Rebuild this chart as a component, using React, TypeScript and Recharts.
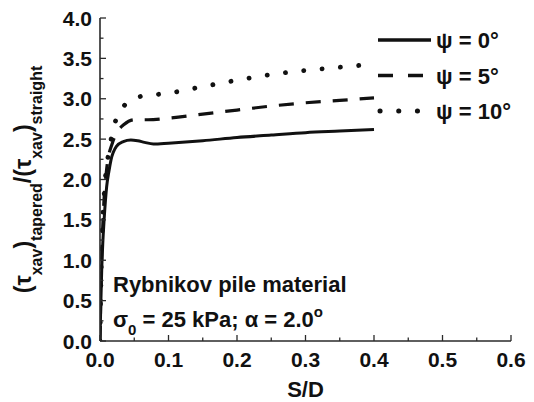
import React from 'react';
import { LineChart, Line, XAxis, YAxis, Legend } from 'recharts';

// S/D vs normalised shaft friction ratio
const psi0X = [0, 0.001, 0.0025, 0.004, 0.006, 0.0097, 0.013, 0.016, 0.024, 0.034, 0.045, 0.055, 0.065, 0.078, 0.1, 0.15, 0.2, 0.25, 0.3, 0.35, 0.4];
const psi0Y = [0, 0.4, 0.88, 1.2, 1.5, 1.91, 2.1, 2.24, 2.41, 2.47, 2.49, 2.48, 2.46, 2.44, 2.45, 2.48, 2.52, 2.55, 2.58, 2.6, 2.62];

const psi5X = [0, 0.002, 0.005, 0.01, 0.018, 0.026, 0.035, 0.05, 0.07, 0.1, 0.15, 0.2, 0.25, 0.3, 0.35, 0.4];
const psi5Y = [0, 0.9, 1.6, 2.15, 2.45, 2.6, 2.68, 2.74, 2.74, 2.76, 2.81, 2.86, 2.91, 2.95, 2.98, 3.01];

const psi10X = [0, 0.002, 0.006, 0.012, 0.017, 0.024, 0.032, 0.043, 0.06, 0.08, 0.1, 0.15, 0.2, 0.25, 0.3, 0.35, 0.4];
const psi10Y = [0, 1.0, 1.8, 2.3, 2.53, 2.76, 2.88, 2.97, 3.03, 3.05, 3.07, 3.15, 3.23, 3.3, 3.35, 3.39, 3.43];

const xTicks = [0, 0.05, 0.1, 0.15, 0.2, 0.25, 0.3, 0.35, 0.4, 0.45, 0.5, 0.55, 0.6];
const yTicks = [0, 0.25, 0.5, 0.75, 1, 1.25, 1.5, 1.75, 2, 2.25, 2.5, 2.75, 3, 3.25, 3.5, 3.75, 4];

const FONT = '"Liberation Sans", Arial, Helvetica, sans-serif';
const INK = '#111';
const FRAME = '#2a2a2a';

const toPoints = (xs: number[], ys: number[]) => xs.map((x, i) => ({ x, y: ys[i] }));

const SERIES = [
  { name: 'psi0', label: '0', data: toPoints(psi0X, psi0Y), dash: undefined, legendDash: undefined, width: 3, cap: 'butt' as const },
  { name: 'psi5', label: '5', data: toPoints(psi5X, psi5Y), dash: '15 12', legendDash: '15 15', width: 3.2, cap: 'butt' as const },
  { name: 'psi10', label: '10', data: toPoints(psi10X, psi10Y), dash: '0.1 18.3', legendDash: '0.1 18.6', width: 4.8, cap: 'round' as const },
];

const isMajor = (v: number, step: number) => Math.abs(v / step - Math.round(v / step)) < 1e-6;

// tick marks point into the plot; labels only on major ticks
const BottomTick = (props: any) => {
  const { x, y, payload } = props;
  const major = isMajor(payload.value, 0.1);
  return (
    <g>
      <line x1={x} y1={y} x2={x} y2={y - (major ? 6 : 3.5)} stroke={FRAME} strokeWidth={1.3} />
      {major && (
        <text x={x} y={y + 26} textAnchor="middle" fontFamily={FONT} fontWeight="bold" fontSize={21} fill={INK}>
          {Number(payload.value).toFixed(1)}
        </text>
      )}
    </g>
  );
};

const TopTick = (props: any) => {
  const { x, y, payload } = props;
  const major = isMajor(payload.value, 0.1);
  return <line x1={x} y1={y} x2={x} y2={y + (major ? 6 : 3.5)} stroke={FRAME} strokeWidth={1.3} />;
};

const LeftTick = (props: any) => {
  const { x, y, payload } = props;
  const major = isMajor(payload.value, 0.5);
  return (
    <g>
      <line x1={x} y1={y} x2={x + (major ? 6 : 3.5)} y2={y} stroke={FRAME} strokeWidth={1.3} />
      {major && (
        <text x={x - 8} y={y + 7.5} textAnchor="end" fontFamily={FONT} fontWeight="bold" fontSize={21} fill={INK}>
          {Number(payload.value).toFixed(1)}
        </text>
      )}
    </g>
  );
};

const RightTick = (props: any) => {
  const { x, y, payload } = props;
  const major = isMajor(payload.value, 0.5);
  return <line x1={x} y1={y} x2={x - (major ? 6 : 3.5)} y2={y} stroke={FRAME} strokeWidth={1.3} />;
};

const YTitle = (props: any) => {
  const vb = props.viewBox || { y: 18, height: 323 };
  const cy = vb.y + vb.height / 2;
  const sub = { fontSize: 16 };
  return (
    <text
      transform={`translate(31,${cy}) rotate(-90)`}
      textAnchor="middle"
      fontFamily={FONT}
      fontWeight="bold"
      fontSize={23}
      fill={INK}
    >
      <tspan>(τ</tspan>
      <tspan dy={11} {...sub}>xav</tspan>
      <tspan dy={-11}>)</tspan>
      <tspan dy={11} {...sub}>tapered</tspan>
      <tspan dy={-11}>/(τ</tspan>
      <tspan dy={11} {...sub}>xav</tspan>
      <tspan dy={-11}>)</tspan>
      <tspan dy={11} {...sub}>straight</tspan>
    </text>
  );
};

const renderLegend = () => (
  <svg width={158} height={110} style={{ display: 'block' }}>
    {SERIES.map((s, i) => {
      const cy = 20 + i * 35.5;
      return (
        <g key={s.name}>
          <line
            x1={s.cap === 'round' ? 4 : 2}
            x2={55}
            y1={cy}
            y2={cy}
            stroke={INK}
            strokeWidth={s.cap === 'round' ? 5 : 3.4}
            strokeDasharray={s.legendDash}
            strokeLinecap={s.cap}
          />
          <text x={60} y={cy + 8} fontFamily={FONT} fontWeight="bold" fontSize={22} fill={INK}>
            ψ = {s.label}°
          </text>
        </g>
      );
    })}
  </svg>
);

export default function App() {
  return (
    <div style={{ position: 'absolute', left: 0, top: 0, width: 534, height: 402, background: '#fff' }}>
      <LineChart width={534} height={402} margin={{ top: 18, right: 23, bottom: 0, left: 0 }}>
        <XAxis
          xAxisId="b"
          dataKey="x"
          type="number"
          domain={[0, 0.6]}
          ticks={xTicks}
          interval={0}
          allowDataOverflow
          height={61}
          tickSize={0}
          tickMargin={0}
          tickLine={false}
          tick={<BottomTick />}
          axisLine={{ stroke: FRAME, strokeWidth: 1.6 }}
          label={{ value: 'S/D', position: 'insideBottom', offset: 5, style: { fontFamily: FONT, fontWeight: 'bold', fontSize: 22, fill: INK } }}
        />
        <XAxis
          xAxisId="t"
          orientation="top"
          dataKey="x"
          type="number"
          domain={[0, 0.6]}
          ticks={xTicks}
          interval={0}
          allowDataOverflow
          height={0}
          tickSize={0}
          tickMargin={0}
          tickLine={false}
          tick={<TopTick />}
          axisLine={{ stroke: FRAME, strokeWidth: 1.6 }}
        />
        <YAxis
          yAxisId="l"
          type="number"
          domain={[0, 4]}
          ticks={yTicks}
          interval={0}
          allowDataOverflow
          width={100}
          tickSize={0}
          tickMargin={0}
          tickLine={false}
          tick={<LeftTick />}
          axisLine={{ stroke: FRAME, strokeWidth: 1.6 }}
          label={<YTitle />}
        />
        <YAxis
          yAxisId="r"
          orientation="right"
          type="number"
          domain={[0, 4]}
          ticks={yTicks}
          interval={0}
          allowDataOverflow
          width={0}
          tickSize={0}
          tickMargin={0}
          tickLine={false}
          tick={<RightTick />}
          axisLine={{ stroke: FRAME, strokeWidth: 1.6 }}
        />
        <Legend
          layout="vertical"
          align="center"
          verticalAlign="middle"
          wrapperStyle={{ left: 376, top: 20, width: 158 }}
          content={renderLegend}
        />
        {SERIES.map((s) => (
          <Line
            key={s.name}
            xAxisId="b"
            yAxisId="l"
            data={s.data}
            dataKey="y"
            name={s.name}
            type="monotone"
            stroke={INK}
            strokeWidth={s.width}
            strokeDasharray={s.dash}
            strokeLinecap={s.cap}
            dot={false}
            activeDot={false}
            isAnimationActive={false}
          />
        ))}
      </LineChart>
      <svg width={534} height={402} style={{ position: 'absolute', left: 0, top: 0, pointerEvents: 'none' }}>
        <g fontFamily={FONT} fontWeight="bold" fill={INK}>
          <text x={113} y={292} fontSize={22}>Rybnikov pile material</text>
          <text x={113} y={327} fontSize={22}>
            <tspan>σ</tspan>
            <tspan dy={8} fontSize={15}>0</tspan>
            <tspan dy={-8}> = 25 kPa; α = 2.0</tspan>
            <tspan dy={-10} fontSize={15}>o</tspan>
          </text>
        </g>
      </svg>
    </div>
  );
}
